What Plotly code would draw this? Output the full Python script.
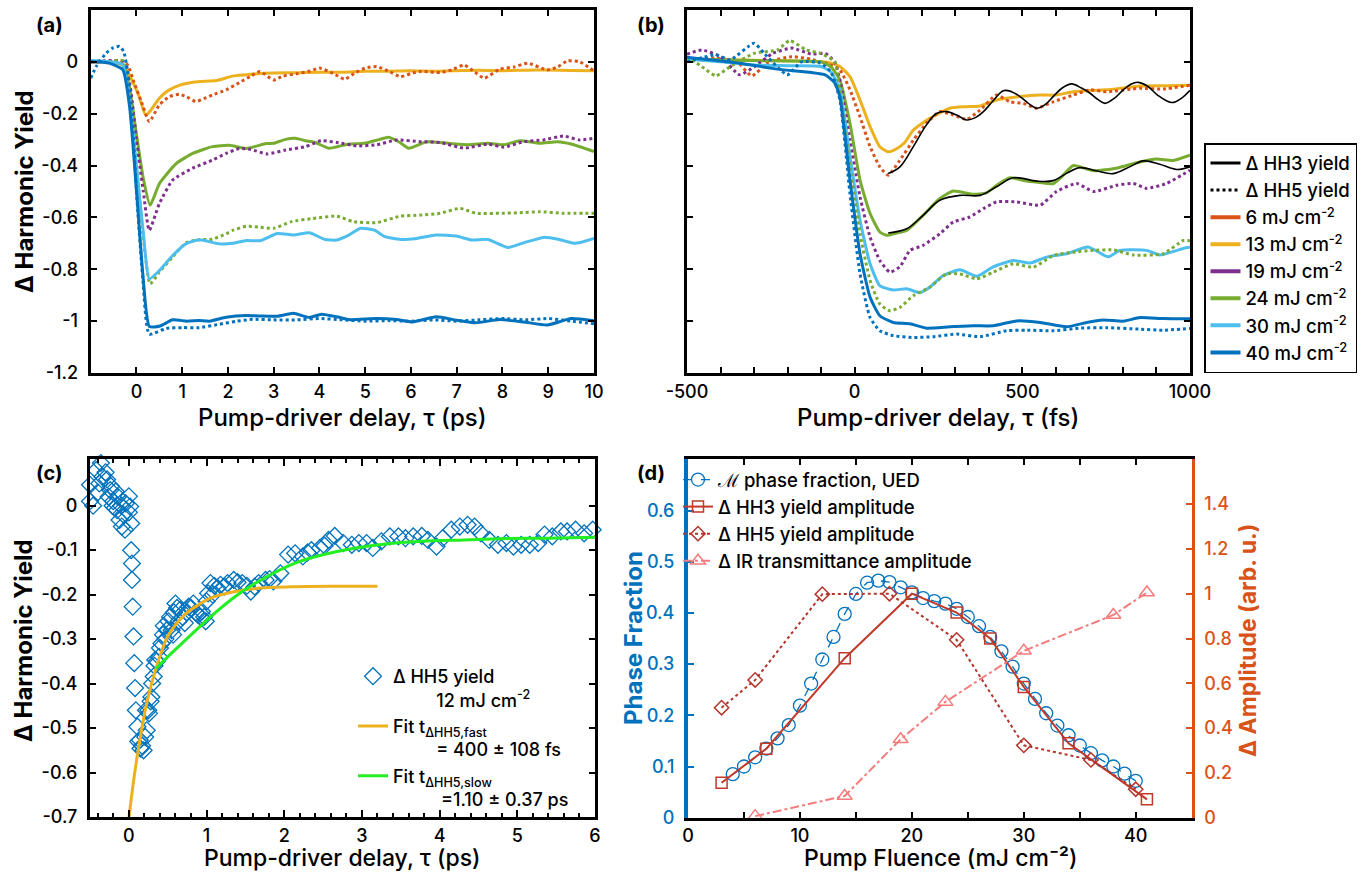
import plotly.graph_objects as go

W, H = 1367, 873
FONT = "Inter, Lato, 'Open Sans', sans-serif"

COLORS = {"6": "#D95319", "13": "#EDB120", "19": "#7E2F8E",
          "24": "#77AC30", "30": "#4DBEEE", "40": "#0072BD"}
FLUENCES = ["6", "13", "19", "24", "30", "40"]

# ---------------- Panel (a): delay (ps), Δ yield ----------------
A_HH3_13 = [(-1, 0), (-0.7, 0), (-0.4, -0.005), (-0.25, -0.02), (-0.1, -0.07), (0.05, -0.13), (0.2, -0.205),
            (0.3, -0.19), (0.5, -0.14), (0.7, -0.11), (0.95, -0.09), (1.2, -0.08), (1.4, -0.076), (1.75, -0.072),
            (2.1, -0.055), (2.4, -0.05), (2.7, -0.045), (3.0, -0.043), (3.5, -0.042), (4, -0.04), (4.5, -0.04),
            (5, -0.036), (5.5, -0.036), (6, -0.034), (6.5, -0.036), (7, -0.034), (7.5, -0.032), (8, -0.034),
            (8.5, -0.032), (9, -0.031), (9.5, -0.033), (10, -0.034)]
A_HH5_6 = [(-1, 0), (-0.7, 0), (-0.4, 0.005), (-0.2, -0.01), (-0.05, -0.08), (0.1, -0.15), (0.28, -0.23),
           (0.5, -0.166), (0.72, -0.134), (0.94, -0.125), (1.1, -0.135), (1.3, -0.153), (1.5, -0.14),
           (1.66, -0.128), (1.96, -0.108), (2.25, -0.08), (2.5, -0.055), (2.7, -0.037), (3.0, -0.07),
           (3.2, -0.055), (3.5, -0.046), (3.8, -0.035), (4.0, -0.024), (4.3, -0.045), (4.55, -0.067),
           (4.8, -0.04), (5.0, -0.024), (5.25, -0.018), (5.5, -0.035), (5.77, -0.057), (6.0, -0.045),
           (6.2, -0.037), (6.64, -0.041), (6.9, -0.03), (7.16, -0.012), (7.4, -0.04), (7.6, -0.063),
           (7.94, -0.028), (8.25, -0.02), (8.55, -0.005), (8.98, -0.031), (9.2, -0.02), (9.42, 0.004),
           (9.68, 0.001), (10, -0.035)]
A_HH3_24 = [(-1, 0), (-0.6, 0), (-0.3, -0.01), (-0.15, -0.1), (0, -0.28), (0.15, -0.45), (0.3, -0.553),
            (0.5, -0.47), (0.87, -0.392), (1.23, -0.353), (1.66, -0.327), (2.03, -0.322), (2.4, -0.334),
            (2.84, -0.315), (3.0, -0.314), (3.26, -0.299), (3.47, -0.295), (3.69, -0.304), (3.9, -0.31),
            (4.2, -0.333), (4.64, -0.317), (4.99, -0.314), (5.3, -0.3), (5.51, -0.291), (5.75, -0.31),
            (5.95, -0.333), (6.34, -0.308), (6.81, -0.314), (7.25, -0.32), (7.68, -0.314), (8.03, -0.32),
            (8.38, -0.304), (8.81, -0.314), (9.2, -0.308), (9.5, -0.317), (10, -0.346)]
A_HH5_19 = [(-1, 0), (-0.6, 0.005), (-0.3, 0), (-0.15, -0.08), (0, -0.3), (0.15, -0.5), (0.28, -0.65),
            (0.5, -0.547), (0.79, -0.456), (1.23, -0.41), (1.66, -0.379), (1.96, -0.353), (2.25, -0.334),
            (2.5, -0.338), (2.86, -0.355), (3.26, -0.34), (3.69, -0.327), (4.04, -0.304), (4.38, -0.311),
            (4.82, -0.324), (5.25, -0.32), (5.69, -0.301), (6.2, -0.308), (6.64, -0.311), (7.16, -0.333),
            (7.68, -0.317), (8.03, -0.329), (8.46, -0.308), (8.9, -0.301), (9.33, -0.286), (9.68, -0.301),
            (10, -0.295)]
A_HH5_24 = [(-1, 0.005), (-0.6, 0.0), (-0.3, 0.005), (-0.15, -0.12), (0, -0.4), (0.15, -0.68), (0.3, -0.856),
            (0.5, -0.811), (0.79, -0.753), (1.08, -0.698), (1.37, -0.686), (1.66, -0.684), (1.96, -0.663),
            (2.1, -0.65), (2.4, -0.634), (2.7, -0.638), (3.0, -0.642), (3.39, -0.616), (3.86, -0.604),
            (4.38, -0.595), (4.73, -0.616), (5.25, -0.62), (5.77, -0.595), (6.2, -0.591), (6.64, -0.584),
            (7.07, -0.565), (7.42, -0.584), (7.94, -0.584), (8.38, -0.582), (8.81, -0.578), (9.33, -0.584),
            (10, -0.584)]
A_HH3_30 = [(-1, 0.005), (-0.6, 0), (-0.3, -0.01), (-0.15, -0.15), (0, -0.4), (0.15, -0.66), (0.28, -0.837),
            (0.5, -0.805), (0.79, -0.747), (1.08, -0.702), (1.37, -0.686), (1.81, -0.702), (2.1, -0.7),
            (2.4, -0.689), (2.7, -0.69), (3.08, -0.662), (3.43, -0.668), (3.78, -0.659), (4.12, -0.685),
            (4.38, -0.687), (4.64, -0.668), (4.9, -0.642), (5.2, -0.649), (5.43, -0.674), (5.77, -0.685),
            (6.12, -0.681), (6.55, -0.668), (6.99, -0.672), (7.33, -0.687), (7.68, -0.685), (8.12, -0.716),
            (8.46, -0.698), (8.9, -0.677), (9.24, -0.685), (9.59, -0.7), (10, -0.681)]
A_HH3_40 = [(-1, 0.0), (-0.6, -0.005), (-0.3, -0.03), (-0.15, -0.173), (0, -0.495), (0.14, -0.82), (0.28, -1.02),
            (0.5, -1.02), (0.79, -0.995), (1.1, -1.0), (1.37, -0.998), (1.6, -1.0), (1.96, -0.985),
            (2.4, -0.978), (2.7, -0.98), (3.08, -0.981), (3.43, -0.97), (3.78, -0.986), (4.04, -0.973),
            (4.38, -0.983), (4.64, -0.994), (5.25, -0.99), (5.69, -0.994), (6.03, -1.003), (6.55, -0.983),
            (6.99, -0.996), (7.42, -1.006), (7.94, -0.994), (8.46, -1.003), (8.98, -1.015), (9.5, -0.99),
            (10, -0.999)]
A_HH5_40 = [(-1, -0.063), (-0.88, -0.018), (-0.66, 0.034), (-0.52, 0.053), (-0.37, 0.06), (-0.28, 0.04),
            (-0.2, -0.03), (-0.1, -0.2), (0.0, -0.5), (0.14, -0.84), (0.28, -1.05), (0.65, -1.028),
            (1.0, -1.025), (1.37, -1.025), (1.81, -1.012), (2.2, -1.0), (2.54, -0.993), (3.0, -0.995),
            (3.5, -0.995), (4.0, -0.99), (4.5, -0.995), (5.0, -1.0), (5.5, -0.998), (6.0, -1.0), (6.5, -0.995),
            (7.0, -1.0), (7.5, -0.995), (8.0, -0.99), (8.5, -0.995), (9.0, -0.99), (9.5, -1.0), (10, -1.01)]

# ---------------- Panel (b): delay (fs), Δ yield ----------------
B_HH3_13 = [(-500, 0.01), (-400, 0.008), (-300, 0.006), (-200, 0.004), (-100, 0.0), (-70, -0.005),
            (-44, -0.018), (-14, -0.057), (16, -0.147), (46, -0.25), (75, -0.327), (100, -0.347),
            (125, -0.335), (150, -0.31), (175, -0.263), (224, -0.218), (284, -0.179), (334, -0.173),
            (374, -0.17), (423, -0.147), (493, -0.134), (553, -0.128), (600, -0.128), (652, -0.115),
            (751, -0.108), (851, -0.093), (930, -0.092), (1000, -0.09)]
B_HH5_6 = [(-500, 0.01), (-414, 0.015), (-350, 0.0), (-307, -0.054), (-256, 0.0), (-187, 0.02), (-130, 0.01),
           (-74, -0.01), (-44, -0.031), (-14, -0.108), (16, -0.212), (46, -0.327), (75, -0.405), (100, -0.437),
           (135, -0.379), (175, -0.302), (214, -0.237), (254, -0.192), (294, -0.205), (334, -0.222),
           (374, -0.186), (423, -0.128), (463, -0.154), (503, -0.16), (543, -0.179), (592, -0.154),
           (652, -0.128), (702, -0.108), (751, -0.115), (851, -0.102), (920, -0.105), (1000, -0.09)]
B_FIT_6 = [(100, -0.431), (135, -0.405), (175, -0.327), (214, -0.243), (244, -0.199), (274, -0.192),
           (304, -0.205), (334, -0.224), (360, -0.215), (384, -0.192), (413, -0.15), (443, -0.111),
           (468, -0.115), (493, -0.134), (518, -0.16), (543, -0.179), (568, -0.165), (592, -0.134),
           (620, -0.1), (647, -0.085), (675, -0.1), (702, -0.121), (725, -0.145), (746, -0.16), (775, -0.14),
           (801, -0.108), (825, -0.085), (846, -0.079), (875, -0.095), (905, -0.13), (946, -0.157),
           (975, -0.14), (1000, -0.11)]
B_HH3_24 = [(-500, 0.01), (-400, 0.008), (-300, 0.005), (-200, 0.003), (-100, 0.0), (-70, -0.02), (-44, -0.07),
            (-14, -0.237), (16, -0.456), (46, -0.585), (75, -0.656), (95, -0.669), (125, -0.66), (155, -0.65),
            (204, -0.592), (254, -0.527), (294, -0.498), (354, -0.511), (393, -0.505), (430, -0.47),
            (463, -0.447), (513, -0.46), (550, -0.465), (592, -0.47), (620, -0.44), (652, -0.4), (712, -0.42),
            (781, -0.41), (851, -0.386), (900, -0.375), (950, -0.38), (1000, -0.36)]
B_FIT_24 = [(100, -0.66), (155, -0.644), (204, -0.592), (254, -0.534), (314, -0.515), (374, -0.515),
            (423, -0.482), (473, -0.447), (543, -0.46), (592, -0.458), (632, -0.43), (672, -0.408),
            (720, -0.42), (771, -0.431), (820, -0.405), (861, -0.382), (910, -0.395), (960, -0.415),
            (1000, -0.405)]
B_HH5_19 = [(-500, 0.03), (-456, 0.046), (-400, 0.02), (-343, -0.05), (-300, -0.02), (-244, 0.033),
            (-187, 0.053), (-130, 0.03), (-88, 0.033), (-60, 0.0), (-44, -0.07), (-14, -0.302), (16, -0.521),
            (46, -0.676), (75, -0.766), (105, -0.811), (135, -0.79), (165, -0.727), (204, -0.708),
            (254, -0.663), (294, -0.618), (344, -0.598), (384, -0.566), (423, -0.54), (483, -0.54),
            (553, -0.553), (602, -0.5), (662, -0.469), (712, -0.5), (781, -0.476), (831, -0.469),
            (871, -0.488), (930, -0.469), (1000, -0.418)]
B_HH3_30 = [(-500, 0.01), (-400, 0.0), (-300, -0.012), (-200, -0.015), (-100, -0.018), (-70, -0.04),
            (-44, -0.108), (-14, -0.366), (16, -0.611), (46, -0.779), (75, -0.863), (115, -0.88),
            (155, -0.875), (194, -0.89), (224, -0.869), (264, -0.824), (314, -0.802), (364, -0.827),
            (413, -0.791), (473, -0.766), (523, -0.776), (572, -0.753), (632, -0.74), (696, -0.714),
            (756, -0.752), (791, -0.727), (871, -0.727), (910, -0.745), (990, -0.716), (1000, -0.715)]
B_HH5_24 = [(-500, 0.02), (-456, -0.018), (-414, -0.054), (-371, -0.018), (-300, 0.033), (-230, 0.046),
            (-194, 0.082), (-144, 0.046), (-102, 0.033), (-59, 0.0), (-44, -0.121), (-14, -0.405),
            (16, -0.663), (46, -0.843), (75, -0.934), (105, -0.96), (135, -0.947), (175, -0.902),
            (224, -0.869), (274, -0.818), (314, -0.818), (364, -0.837), (413, -0.811), (473, -0.779),
            (533, -0.792), (592, -0.747), (652, -0.734), (712, -0.727), (771, -0.725), (831, -0.745),
            (920, -0.74), (980, -0.689), (1000, -0.69)]
B_HH3_40 = [(-500, 0.018), (-343, -0.005), (-230, -0.028), (-130, -0.041), (-88, -0.05), (-60, -0.08),
            (-44, -0.134), (-14, -0.456), (16, -0.74), (46, -0.908), (75, -0.979), (115, -1.005),
            (165, -1.01), (214, -1.027), (284, -1.022), (354, -1.018), (413, -1.018), (483, -0.999),
            (553, -1.005), (632, -1.022), (692, -1.005), (741, -0.996), (801, -1.0), (851, -0.986),
            (920, -0.99), (1000, -0.991)]
B_HH5_40 = [(-500, 0.0), (-414, 0.027), (-371, 0.008), (-300, 0.072), (-270, 0.033), (-201, -0.05),
            (-159, 0.0), (-102, -0.005), (-70, -0.04), (-44, -0.147), (-14, -0.508), (16, -0.818),
            (46, -0.986), (75, -1.037), (115, -1.056), (175, -1.063), (234, -1.06), (304, -1.05),
            (374, -1.06), (453, -1.037), (513, -1.035), (592, -1.037), (672, -1.027), (751, -1.025),
            (851, -1.031), (920, -1.035), (1000, -1.028)]

# ---------------- Panel (c): ΔHH5 yield, 12 mJ cm-2 ----------------
C_HH5 = [(-0.5, 0.01), (-0.5, 0.047), (-0.46, 0.0), (-0.42, 0.08), (-0.4, 0.03), (-0.38, 0.05), (-0.36, 0.096),
         (-0.34, 0.065), (-0.31, 0.107), (-0.3, 0.075), (-0.28, 0.059), (-0.26, 0.02), (-0.24, 0.035),
         (-0.23, 0.044), (-0.21, 0.0), (-0.2, 0.01), (-0.18, -0.005), (-0.17, 0.032), (-0.15, -0.01),
         (-0.14, 0.02), (-0.12, -0.032), (-0.1, 0.0), (-0.09, -0.047), (-0.07, -0.02), (-0.05, -0.054),
         (-0.04, 0.005), (0.0, 0.021), (0.0, -0.015), (0.016, -0.002), (0.03, -0.04), (0.03, -0.1),
         (0.04, -0.13), (0.04, -0.167), (0.05, -0.227), (0.06, -0.294), (0.07, -0.354), (0.08, -0.41),
         (0.09, -0.46), (0.11, -0.497), (0.12, -0.53), (0.14, -0.527), (0.15, -0.546), (0.17, -0.54),
         (0.19, -0.55), (0.21, -0.52), (0.22, -0.46), (0.23, -0.505), (0.25, -0.46), (0.26, -0.467),
         (0.28, -0.44), (0.29, -0.43), (0.3, -0.4), (0.32, -0.384), (0.33, -0.36), (0.34, -0.347),
         (0.36, -0.35), (0.39, -0.34), (0.4, -0.32), (0.42, -0.31), (0.44, -0.29), (0.45, -0.27),
         (0.47, -0.3), (0.49, -0.28), (0.51, -0.26), (0.53, -0.25), (0.55, -0.28), (0.57, -0.29),
         (0.58, -0.24), (0.6, -0.22), (0.62, -0.23), (0.64, -0.26), (0.66, -0.234), (0.69, -0.25),
         (0.72, -0.264), (0.75, -0.24), (0.77, -0.227), (0.8, -0.23), (0.83, -0.22), (0.86, -0.24),
         (0.89, -0.245), (0.92, -0.25), (0.94, -0.238), (0.97, -0.25), (0.99, -0.26), (1.0, -0.215),
         (1.02, -0.197), (1.05, -0.174), (1.08, -0.2), (1.1, -0.18), (1.14, -0.185), (1.18, -0.178),
         (1.23, -0.182), (1.27, -0.174), (1.35, -0.167), (1.4, -0.172), (1.46, -0.174), (1.52, -0.18),
         (1.57, -0.193), (1.62, -0.182), (1.67, -0.174), (1.76, -0.167), (1.81, -0.165), (1.86, -0.17),
         (1.95, -0.152), (2.05, -0.11), (2.14, -0.107), (2.24, -0.114), (2.3, -0.105), (2.35, -0.1),
         (2.46, -0.095), (2.52, -0.09), (2.57, -0.077), (2.65, -0.068), (2.76, -0.084), (2.87, -0.088),
         (2.96, -0.084), (3.06, -0.084), (3.14, -0.095), (3.25, -0.08), (3.36, -0.069), (3.47, -0.069),
         (3.56, -0.073), (3.66, -0.069), (3.77, -0.068), (3.85, -0.077), (3.96, -0.092), (4.04, -0.073),
         (4.15, -0.054), (4.26, -0.047), (4.36, -0.043), (4.45, -0.047), (4.53, -0.062), (4.64, -0.077),
         (4.75, -0.088), (4.86, -0.084), (4.95, -0.092), (5.05, -0.088), (5.16, -0.088), (5.27, -0.084),
         (5.35, -0.065), (5.45, -0.069), (5.56, -0.058), (5.64, -0.058), (5.75, -0.054), (5.86, -0.062),
         (5.97, -0.054)]
C_FIT_FAST = [(0, -0.703), (0.06, -0.62), (0.12, -0.55), (0.23, -0.444), (0.37, -0.354), (0.5, -0.294),
              (0.72, -0.245), (1.05, -0.208), (1.37, -0.193), (1.7, -0.185), (2.14, -0.182), (2.6, -0.181),
              (3.2, -0.181)]
C_FIT_SLOW = [(0.35, -0.366), (0.5, -0.34), (0.78, -0.294), (1.05, -0.25), (1.37, -0.204), (1.7, -0.167),
              (2.14, -0.129), (2.68, -0.103), (3.22, -0.088), (3.77, -0.08), (4.31, -0.077), (4.86, -0.074),
              (5.4, -0.073), (6.08, -0.071)]

# ---------------- Panel (d): vs pump fluence ----------------
D_F_UED = list(range(4, 41))
D_UED = [0.085, 0.1, 0.118, 0.135, 0.155, 0.181, 0.219, 0.262, 0.309, 0.353, 0.398, 0.437, 0.459, 0.463,
         0.46, 0.45, 0.44, 0.429, 0.423, 0.418, 0.408, 0.392, 0.374, 0.353, 0.325, 0.295, 0.262, 0.232,
         0.204, 0.18, 0.161, 0.141, 0.126, 0.112, 0.1, 0.086, 0.072]
D_F_HH3 = [3, 7, 14, 20, 24, 27, 30, 34, 41]
D_HH3 = [0.156, 0.308, 0.712, 1.0, 0.916, 0.8, 0.584, 0.332, 0.082]
D_F_HH5 = [3, 6, 12, 18, 24, 30, 36, 40]
D_HH5 = [0.491, 0.615, 0.998, 1.0, 0.794, 0.323, 0.258, 0.127]
D_F_IR = [6, 14, 19, 23, 30, 38, 41]
D_IR = [0.007, 0.097, 0.35, 0.517, 0.745, 0.905, 1.005]


def xy(pairs):
    return [p[0] for p in pairs], [p[1] for p in pairs]


def dx(px):
    return px / W


def dy(py):
    return 1 - py / H


fig = go.Figure()

# Panel (a)
A_SERIES = [(A_HH3_13, "13", "solid"), (A_HH5_6, "6", "dot"), (A_HH3_24, "24", "solid"),
            (A_HH5_19, "19", "dot"), (A_HH5_24, "24", "dot"), (A_HH3_30, "30", "solid"),
            (A_HH3_40, "40", "solid"), (A_HH5_40, "40", "dot")]
for data, f, dash in A_SERIES:
    x, y = xy(data)
    fig.add_trace(go.Scatter(x=x, y=y, xaxis="x", yaxis="y", mode="lines", showlegend=False,
                             line=dict(color=COLORS[f], width=3, dash=dash, shape="spline", smoothing=0.5)))

# Panel (b)
B_SERIES = [(B_HH3_13, "13", "solid"), (B_HH5_6, "6", "dot"), (B_HH3_24, "24", "solid"),
            (B_HH5_19, "19", "dot"), (B_HH3_30, "30", "solid"), (B_HH5_24, "24", "dot"),
            (B_HH3_40, "40", "solid"), (B_HH5_40, "40", "dot")]
for data, f, dash in B_SERIES:
    x, y = xy(data)
    fig.add_trace(go.Scatter(x=x, y=y, xaxis="x2", yaxis="y2", mode="lines", showlegend=False,
                             line=dict(color=COLORS[f], width=3, dash=dash, shape="spline", smoothing=0.5)))
for data in (B_FIT_6, B_FIT_24):
    x, y = xy(data)
    fig.add_trace(go.Scatter(x=x, y=y, xaxis="x2", yaxis="y2", mode="lines", showlegend=False,
                             line=dict(color="black", width=1.6, shape="spline", smoothing=1.0)))

# Legend entries for (b)
fig.add_trace(go.Scatter(x=[None], y=[None], xaxis="x2", yaxis="y2", mode="lines", name="Δ HH3 yield",
                         legend="legend", line=dict(color="black", width=3)))
fig.add_trace(go.Scatter(x=[None], y=[None], xaxis="x2", yaxis="y2", mode="lines", name="Δ HH5 yield",
                         legend="legend", line=dict(color="black", width=3, dash="dot")))
for f in FLUENCES:
    fig.add_trace(go.Scatter(x=[None], y=[None], xaxis="x2", yaxis="y2", mode="lines",
                             name=f"{f} mJ cm<sup>-2</sup>", legend="legend",
                             line=dict(color=COLORS[f], width=4)))

# Panel (c)
NB = "\u00a0"
x, y = xy(C_HH5)
fig.add_trace(go.Scatter(x=x, y=y, xaxis="x3", yaxis="y3", mode="markers", cliponaxis=False,
                         name="Δ HH5 yield<br>" + NB * 9 + "12 mJ cm<sup>-2</sup>", legend="legend2",
                         marker=dict(symbol="diamond-open", size=13, color="#0072BD", line=dict(width=1.3))))
x, y = xy(C_FIT_FAST)
fig.add_trace(go.Scatter(x=x, y=y, xaxis="x3", yaxis="y3", mode="lines",
                         name="Fit t<sub>ΔHH5,fast</sub><br>" + NB * 9 + "= 400 ± 108 fs", legend="legend2",
                         line=dict(color="#EDB120", width=3, shape="spline", smoothing=0.8)))
x, y = xy(C_FIT_SLOW)
fig.add_trace(go.Scatter(x=x, y=y, xaxis="x3", yaxis="y3", mode="lines", cliponaxis=False,
                         name="Fit t<sub>ΔHH5,slow</sub><br>" + NB * 10 + "=1.10 ± 0.37 ps", legend="legend2",
                         line=dict(color="#22EE22", width=3, shape="spline", smoothing=0.8)))

# Panel (d)
BLUE = "#0072BD"
ORANGE = "#D95319"
fig.add_trace(go.Scatter(x=D_F_UED, y=D_UED, xaxis="x4", yaxis="y4", mode="lines+markers", cliponaxis=False,
                         name="ℳ phase fraction, UED", legend="legend3",
                         line=dict(color=BLUE, width=1.3, dash="dash"),
                         marker=dict(symbol="circle-open", size=13, color=BLUE, line=dict(width=1.3))))
fig.add_trace(go.Scatter(x=D_F_HH3, y=D_HH3, xaxis="x4", yaxis="y5", mode="lines+markers", cliponaxis=False,
                         name="Δ HH3 yield amplitude", legend="legend3",
                         line=dict(color="#C0392B", width=2),
                         marker=dict(symbol="square-open", size=11, color="#C0392B", line=dict(width=1.5))))
fig.add_trace(go.Scatter(x=D_F_HH5, y=D_HH5, xaxis="x4", yaxis="y5", mode="lines+markers", cliponaxis=False,
                         name="Δ HH5 yield amplitude", legend="legend3",
                         line=dict(color="#B5342B", width=2, dash="dot"),
                         marker=dict(symbol="diamond-open", size=11, color="#B5342B", line=dict(width=1.5))))
fig.add_trace(go.Scatter(x=D_F_IR, y=D_IR, xaxis="x4", yaxis="y5", mode="lines+markers", cliponaxis=False,
                         name="Δ IR transmittance amplitude", legend="legend3",
                         line=dict(color="#F47C7C", width=2, dash="dashdot"),
                         marker=dict(symbol="triangle-up-open", size=13, color="#F47C7C", line=dict(width=1.5))))

TICKFONT = dict(family=FONT, size=18, color="black", weight=500)


def axis_style(**kw):
    base = dict(showline=True, linewidth=3, linecolor="black", mirror="allticks", ticks="inside",
                ticklen=6, tickwidth=2, tickcolor="black", showgrid=False, zeroline=False,
                tickfont=TICKFONT, fixedrange=True, automargin=False)
    base.update(kw)
    return base


YT_A = [-1.2, -1.0, -0.8, -0.6, -0.4, -0.2, 0]
YT_A_TXT = ["-1.2", "-1", "-0.8", "-0.6", "-0.4", "-0.2", "0"]
XT_B = list(range(-500, 1001, 100))
XT_B_TXT = [str(v) if v % 500 == 0 else "" for v in XT_B]
YT_C = [-0.7, -0.6, -0.5, -0.4, -0.3, -0.2, -0.1, 0]
YT_C_TXT = ["-0.7", "-0.6", "-0.5", "-0.4", "-0.3", "-0.2", "-0.1", "0"]
YT_D = [0, 0.1, 0.2, 0.3, 0.4, 0.5, 0.6]
YT_D_TXT = ["0", "0.1", "0.2", "0.3", "0.4", "0.5", "0.6"]
YT_D2 = [0, 0.2, 0.4, 0.6, 0.8, 1.0, 1.2, 1.4]
YT_D2_TXT = ["0", "0.2", "0.4", "0.6", "0.8", "1", "1.2", "1.4"]

fig.update_layout(
    width=W, height=H, margin=dict(l=0, r=0, t=0, b=0, autoexpand=False),
    paper_bgcolor="white", plot_bgcolor="white",
    font=dict(family=FONT, color="black"),
    xaxis=axis_style(domain=[dx(90.7), dx(594)], anchor="y", range=[-1, 10],
                     tickvals=list(range(0, 11))),
    yaxis=axis_style(domain=[dy(373), dy(10)], anchor="x", range=[-1.2, 0.2],
                     tickvals=YT_A, ticktext=YT_A_TXT, ticklabelstandoff=6),
    xaxis2=axis_style(domain=[dx(687), dx(1190)], anchor="y2", range=[-500, 1000],
                      tickvals=XT_B, ticktext=XT_B_TXT),
    yaxis2=axis_style(domain=[dy(373), dy(10)], anchor="x2", range=[-1.2, 0.2],
                      tickvals=YT_A, showticklabels=False),
    xaxis3=axis_style(domain=[dx(90), dx(595)], anchor="y3", range=[-0.5, 6],
                      tickvals=list(range(0, 7)), ticklen=7,
                      minor=dict(dtick=0.2, tick0=0, ticks="inside", ticklen=4, tickwidth=2, tickcolor="black")),
    yaxis3=axis_style(domain=[dy(817), dy(459)], anchor="x3", range=[-0.7, 0.105],
                      tickvals=YT_C, ticktext=YT_C_TXT, ticklabelstandoff=6),
    xaxis4=axis_style(domain=[dx(688), dx(1191.7)], anchor="y4", range=[0, 45],
                      tickvals=[0, 10, 20, 30, 40],
                      minor=dict(dtick=5, tick0=0, ticks="inside", ticklen=6, tickwidth=2, tickcolor="black")),
    yaxis4=axis_style(domain=[dy(817.7), dy(459.3)], anchor="x4", range=[0, 0.7], mirror=False,
                      linecolor=BLUE, linewidth=4, tickcolor=BLUE, tickvals=YT_D, ticktext=YT_D_TXT,
                      tickfont=dict(family=FONT, size=18, color=BLUE, weight=500), ticklabelstandoff=6),
    yaxis5=axis_style(domain=[dy(817.7), dy(459.3)], anchor="x4", overlaying="y4", side="right",
                      range=[0, 1.6], mirror=False, linecolor=ORANGE, linewidth=3, tickcolor=ORANGE,
                      tickvals=YT_D2, ticktext=YT_D2_TXT,
                      tickfont=dict(family=FONT, size=18, color=ORANGE, weight=500), ticklabelstandoff=6),
    legend=dict(x=dx(1357), y=dy(373), xanchor="right", yanchor="bottom", bgcolor="white",
                bordercolor="black", borderwidth=1.5, itemwidth=30, tracegroupgap=0,
                font=dict(family=FONT, size=18.5, color="black", weight=500)),
    legend2=dict(x=dx(353), y=dy(658), xanchor="left", yanchor="top", bgcolor="rgba(0,0,0,0)",
                 borderwidth=0, itemwidth=30, valign="top",
                 font=dict(family=FONT, size=18, color="black", weight=500)),
    legend3=dict(x=dx(678), y=dy(461), xanchor="left", yanchor="top", bgcolor="rgba(0,0,0,0)",
                 borderwidth=0, itemwidth=30,
                 font=dict(family=FONT, size=18.5, color="black", weight=500)),
)

ANN = []


def ann(text, x, y, size=24, weight=500, color="black", angle=0):
    ANN.append(dict(text=text, x=dx(x), y=dy(y), xref="paper", yref="paper", showarrow=False,
                    xanchor="center", yanchor="middle", textangle=angle,
                    font=dict(family=FONT, size=size, color=color, weight=weight)))


ann("(a)", 50, 25, size=20, weight=700)
ann("(b)", 651, 25, size=20, weight=700)
ann("(c)", 49, 473, size=20, weight=700)
ann("(d)", 651, 473, size=20, weight=700)
ann("Δ Harmonic Yield", 24, 192, size=24, weight=700, angle=-90)
ann("Pump-driver delay, τ (ps)", 342, 417, size=24, weight=500)
ann("Pump-driver delay, τ (fs)", 938, 417, size=24, weight=500)
ann("Δ Harmonic Yield", 23, 641, size=24, weight=700, angle=-90)
ann("Pump-driver delay, τ (ps)", 342, 858, size=23, weight=500)
ann("Phase Fraction", 633, 638, size=24, weight=700, color=BLUE, angle=-90)
ann("Δ Amplitude (arb. u.)", 1248, 641, size=23, weight=700, color=ORANGE, angle=-90)
ann("Pump Fluence (mJ cm\u207b\u00b2)", 940, 858, size=23, weight=500)
fig.update_layout(annotations=ANN)

fig.write_html("out.html", config={"displayModeBar": False},
               post_script="document.body.style.margin='0px';document.body.style.padding='0px';"
                           "document.body.style.overflow='hidden';")
